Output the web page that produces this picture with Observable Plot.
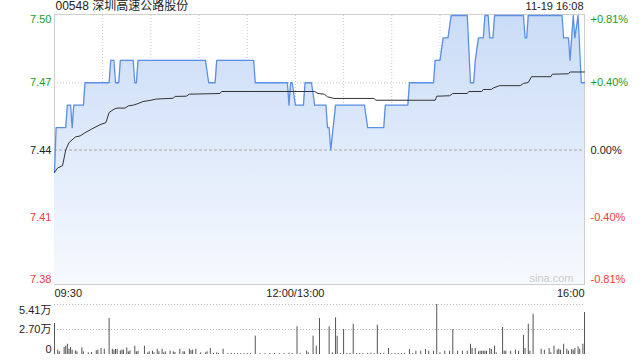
<!DOCTYPE html>
<html>
<head>
<meta charset="utf-8">
<script src="https://cdn.jsdelivr.net/npm/d3@7"></script>
<script src="https://cdn.jsdelivr.net/npm/@observablehq/plot@0.6"></script>
<style>
  html, body { margin: 0; padding: 0; background: #fff; }
  #wrap { position: relative; width: 640px; height: 360px; overflow: hidden; }
  #wrap svg { position: absolute; left: 0; }
</style>
</head>
<body>
<div id="wrap"></div>
<script>
// ---------- data ----------
const stockTitle = "00548 深圳高速公路股份";
const stampText = "11-19 16:08";
const prevClose = 7.44;

const priceTicks = [7.50, 7.47, 7.44, 7.41, 7.38];
const pctLabels = ["+0.81%", "+0.40%", "0.00%", "-0.40%", "-0.81%"];
const xLabelTimes = ["09:30", "12:00", "16:00"];
const xLabelTexts = ["09:30", "12:00/13:00", "16:00"];
const gridTimes = ["10:00", "10:30", "11:00", "11:30", "12:00", "13:30", "14:00", "14:30", "15:00", "15:30"];

const volTicks = [54100, 27050, 0];
const volLabels = ["5.41万", "2.70万", "0"];

const priceTimes = ["09:30","09:31","09:37","09:38","09:40","09:41","09:42","09:48","09:49","10:04","10:05","10:07","10:08","10:10","10:11","10:19","10:20","10:21","10:22","11:04","11:06","11:10","11:11","11:34","11:35","11:55","11:56","11:57","11:58","12:00","13:05","13:06","13:10","13:12","13:19","13:20","13:21","13:22","13:25","13:43","13:45","13:55","13:56","14:10","14:11","14:26","14:27","14:30","14:32","14:35","14:37","14:47","14:49","14:51","14:52","14:54","14:57","14:58","15:00","15:01","15:03","15:04","15:22","15:23","15:24","15:25","15:46","15:47","15:50","15:51","15:53","15:54","15:56","15:58","16:00"];
const priceValues = [7.43,7.45,7.45,7.46,7.46,7.45,7.46,7.46,7.47,7.47,7.48,7.48,7.47,7.47,7.48,7.48,7.47,7.47,7.48,7.48,7.47,7.47,7.48,7.48,7.47,7.47,7.46,7.47,7.47,7.46,7.46,7.47,7.47,7.46,7.46,7.45,7.45,7.44,7.46,7.46,7.45,7.45,7.46,7.46,7.47,7.47,7.48,7.48,7.49,7.49,7.50,7.50,7.47,7.47,7.48,7.49,7.49,7.50,7.50,7.49,7.49,7.50,7.50,7.49,7.49,7.50,7.50,7.49,7.49,7.48,7.50,7.49,7.50,7.47,7.47];

const avgTimes = ["09:30","09:32","09:35","09:37","09:39","09:43","09:46","09:49","09:53","09:59","10:02","10:04","10:07","10:09","10:14","10:16","10:19","10:22","10:25","10:30","10:33","10:44","10:45","10:52","10:54","11:13","11:14","13:12","13:14","13:18","13:20","13:24","13:49","13:50","14:27","14:28","14:36","14:38","14:47","14:48","14:56","14:57","15:02","15:03","15:07","15:20","15:22","15:25","15:27","15:39","15:40","15:50","15:51","16:00"];
const avgValues = [7.430,7.432,7.433,7.440,7.4433,7.4458,7.4463,7.4477,7.4493,7.4515,7.4522,7.4567,7.4582,7.4587,7.4587,7.4597,7.4600,7.4607,7.4616,7.4622,7.4627,7.4631,7.4639,7.4640,7.4649,7.4652,7.4661,7.4661,7.4652,7.4649,7.4637,7.4630,7.4630,7.4622,7.4622,7.4640,7.4642,7.4652,7.4652,7.4661,7.4661,7.4670,7.4670,7.4676,7.4687,7.4687,7.4697,7.4701,7.4727,7.4727,7.4738,7.4740,7.4748,7.4748];

const volTimes = ["09:30","09:32","09:33","09:36","09:37","09:38","09:39","09:40","09:41","09:43","09:44","09:47","09:48","09:51","09:53","09:56","09:57","09:59","10:01","10:04","10:06","10:07","10:08","10:09","10:11","10:12","10:13","10:15","10:16","10:17","10:20","10:21","10:22","10:26","10:28","10:29","10:31","10:32","10:34","10:35","10:37","10:38","10:39","10:42","10:44","10:45","10:48","10:50","10:51","10:54","10:55","10:56","10:58","11:01","11:04","11:05","11:07","11:09","11:11","11:12","11:15","11:18","11:20","11:22","11:24","11:26","11:28","11:30","11:32","11:35","11:38","11:41","11:44","11:47","11:50","11:53","11:56","11:58","13:01","13:03","13:07","13:08","13:11","13:13","13:15","13:21","13:23","13:25","13:26","13:28","13:30","13:32","13:34","13:36","13:38","13:40","13:42","13:45","13:47","13:49","13:51","13:53","13:55","13:58","14:00","14:02","14:04","14:06","14:08","14:11","14:13","14:15","14:18","14:21","14:23","14:26","14:28","14:30","14:33","14:36","14:38","14:41","14:44","14:47","14:49","14:50","14:52","14:54","14:55","14:56","14:57","14:58","14:59","15:01","15:02","15:04","15:05","15:09","15:10","15:11","15:14","15:17","15:19","15:22","15:23","15:25","15:26","15:28","15:33","15:35","15:38","15:39","15:41","15:43","15:44","15:45","15:47","15:49","15:50","15:52","15:53","15:54","15:56","15:57","15:59","16:00"];
const volValues = [33500,4700,2900,7600,9000,11100,5700,7600,4700,4000,2900,7200,2900,1800,2200,4000,4700,6500,5700,39000,5700,4700,5400,5700,4000,4700,4700,7200,2900,4000,9000,2900,3600,9000,1800,2900,3600,1800,5700,2900,5700,1800,2900,3600,2900,2200,5700,2900,2900,5700,4000,4700,5700,1800,1800,2900,6500,1100,1800,1100,5700,1000,1100,800,1000,900,1000,1100,900,19800,1100,900,1000,1200,900,1100,1300,1000,30000,1000,3600,1800,19800,9000,39000,30000,1800,39700,19800,1000,27000,1100,1000,32800,1000,1100,1000,1100,1500,1000,31700,1000,1200,6500,1000,1100,1000,1000,1200,5400,1000,3600,3600,5400,3600,3600,54100,1800,3600,3600,27000,3600,3600,3600,11100,6500,6500,2900,3600,3600,3600,3600,3600,6500,5400,9000,1800,29200,3600,3600,3600,4700,3600,20900,6500,32800,3600,43600,5700,4700,6500,1800,9000,4700,5700,4700,11100,5700,3600,5400,4700,6500,8300,5700,11100,45400];

// ---------- helpers ----------
// trading-minute index: morning 09:30-12:00 -> 0..150, afternoon 13:00-16:00 -> 150..330
function tIdx(s) {
  const [h, m] = s.split(":").map(Number);
  const mins = h * 60 + m;
  return mins < 13 * 60 ? mins - (9 * 60 + 30) : 150 + mins - 13 * 60;
}
const priceData = priceTimes.map((t, i) => ({t: tIdx(t), p: priceValues[i]}));
const avgData = avgTimes.map((t, i) => ({t: tIdx(t), p: avgValues[i]}));
const volData = volTimes.map((t, i) => ({t: tIdx(t), v: volValues[i]}));
const tickData = priceTicks.map((p, i) => ({
  p, label: p.toFixed(2), pct: pctLabels[i],
  color: p > prevClose ? "#1a9e1a" : p < prevClose ? "#f23a3a" : "#222"
}));
const yMin = d3.min(priceTicks), yMax = d3.max(priceTicks);
const xDomain = [tIdx("09:30"), tIdx("16:00")];

const FONT = '"Liberation Sans", Arial, "Noto Sans CJK SC", sans-serif';
const GREY = "#c8c8c8";

// ---------- main price chart ----------
const labelMarks = (rows, anchor, dy) => [
  Plot.text(rows, {y: "p", text: "label", fill: "color", frameAnchor: "left", dx: -3, dy, textAnchor: "end", lineAnchor: anchor, fontSize: 11}),
  Plot.text(rows, {y: "p", text: "pct", fill: "color", frameAnchor: "right", dx: 6, dy, textAnchor: "start", lineAnchor: anchor, fontSize: 11})
];

const main = Plot.plot({
  width: 640, height: 300,
  marginLeft: 54, marginRight: 56, marginTop: 15, marginBottom: 16,
  x: {domain: xDomain, axis: null},
  y: {domain: [yMin, yMax], axis: null},
  color: {type: "identity"},
  style: {fontFamily: FONT, fontSize: "11px", background: "transparent", overflow: "visible"},
  marks: [
    Plot.ruleX(gridTimes.map(tIdx), {stroke: GREY, strokeDasharray: "1,2"}),
    Plot.ruleY(priceTicks.filter(p => p !== prevClose && p !== yMin && p !== yMax), {stroke: GREY, strokeDasharray: "1,2"}),
    Plot.frame({stroke: "#cfcfcf", insetTop: -1}),
    Plot.areaY(priceData, {x: "t", y1: () => yMin, y2: "p", fill: "url(#areaGrad)"}),
    Plot.ruleY([prevClose], {stroke: "#aaa", strokeDasharray: "3,2"}),
    Plot.line(priceData, {x: "t", y: "p", stroke: "#5b8fe6", strokeWidth: 1.3}),
    Plot.line(avgData, {x: "t", y: "p", stroke: "#333", strokeWidth: 1}),
    ...labelMarks(tickData.slice(0, 1), "top", 0),
    ...labelMarks(tickData.slice(1, -1), "middle", 0),
    ...labelMarks(tickData.slice(-1), "bottom", -2),
    Plot.text([stockTitle], {frameAnchor: "top-left", dx: 1, dy: -9, textAnchor: "start", lineAnchor: "middle", fontSize: 12, fill: "#222"}),
    Plot.text([stampText], {frameAnchor: "top-right", dx: -1, dy: -9, textAnchor: "end", lineAnchor: "middle", fontSize: 11, fill: "#222"}),
    Plot.text(["sina.com"], {frameAnchor: "bottom-right", dx: -11, dy: -6, textAnchor: "end", lineAnchor: "middle", fontSize: 11, fill: "#cccccc"}),
    Plot.text([0], {x: () => tIdx(xLabelTimes[0]), text: () => xLabelTexts[0], frameAnchor: "bottom", dy: 9, textAnchor: "start", lineAnchor: "middle", fill: "#222"}),
    Plot.text([0], {x: () => tIdx(xLabelTimes[1]), text: () => xLabelTexts[1], frameAnchor: "bottom", dy: 9, textAnchor: "middle", lineAnchor: "middle", fill: "#222"}),
    Plot.text([0], {x: () => tIdx(xLabelTimes[2]), text: () => xLabelTexts[2], frameAnchor: "bottom", dy: 9, textAnchor: "end", lineAnchor: "middle", fill: "#222"})
  ]
});
main.style.top = "0px";
const defs = d3.select(main).insert("defs", ":first-child");
const grad = defs.append("linearGradient").attr("id", "areaGrad")
  .attr("x1", 0).attr("y1", 0).attr("x2", 0).attr("y2", 1);
grad.append("stop").attr("offset", "0%").attr("stop-color", "#cadcf7");
grad.append("stop").attr("offset", "100%").attr("stop-color", "#f6f9fe");

// ---------- volume chart ----------
const volRows = volTicks.map((v, i) => ({v, label: volLabels[i]}));
const vol = Plot.plot({
  width: 640, height: 60,
  marginLeft: 54, marginRight: 56, marginTop: 4, marginBottom: 6,
  x: {domain: xDomain, axis: null},
  y: {domain: [0, d3.max(volTicks)], axis: null},
  style: {fontFamily: FONT, fontSize: "11px", background: "transparent", overflow: "visible"},
  marks: [
    Plot.ruleY(volTicks.slice(0, 2), {stroke: "#bbb", strokeDasharray: "1,2"}),
    Plot.ruleX(volData, {x: "t", y1: 0, y2: "v", stroke: "#555", strokeWidth: 1}),
    Plot.text(volRows.slice(0, 1), {y: "v", text: "label", frameAnchor: "left", dx: -3, dy: 2, textAnchor: "end", lineAnchor: "top", fill: "#222"}),
    Plot.text(volRows.slice(1, 2), {y: "v", text: "label", frameAnchor: "left", dx: -3, textAnchor: "end", lineAnchor: "middle", fill: "#222"}),
    Plot.text(volRows.slice(2), {y: "v", text: "label", frameAnchor: "left", dx: -3, dy: -2, textAnchor: "end", lineAnchor: "bottom", fill: "#222"})
  ]
});
vol.style.top = "300px";

document.getElementById("wrap").append(main, vol);
</script>
</body>
</html>
